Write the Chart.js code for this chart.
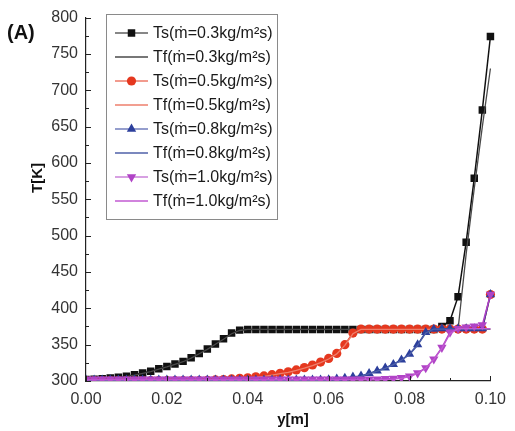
<!DOCTYPE html>
<html><head><meta charset="utf-8">
<script src="https://cdn.jsdelivr.net/npm/chart.js@4/dist/chart.umd.min.js"></script>
<style>html,body{margin:0;padding:0;background:#fff;}canvas{display:block;}</style>
</head><body>
<canvas id="c" width="515" height="431"></canvas>
<script>
// ---- data ----
const xPos = [0.000,0.002,0.004,0.006,0.008,0.010,0.012,0.014,0.016,0.018,
              0.020,0.022,0.024,0.026,0.028,0.030,0.032,0.034,0.036,0.038,
              0.040,0.042,0.044,0.046,0.048,0.050,0.052,0.054,0.056,0.058,
              0.060,0.062,0.064,0.066,0.068,0.070,0.072,0.074,0.076,0.078,
              0.080,0.082,0.084,0.086,0.088,0.090,0.092,0.094,0.096,0.098,0.100];

const ts03 = [302,302.5,303,304,305,306.5,308.5,311,313.5,317,
              320,323.5,327,332,338,344,351,358,366,370,
              371,371,371,371,371,371,371,371,371,371,
              371,371,371,371,371,371,371,371,371,371,
              371,371,371,371,375,383,416,491,579,673,774];
const tf03 = [301.5,302,302.5,303.5,304.5,306,308,310.5,313,316.5,
              319.5,323,326.5,331.5,337.5,343.5,350.5,357.5,365,369.5,
              371,371,371,371,371,371,371,371,371,371,
              371,371,371,371,371,371,371,371,371,371,
              371,371,371,371,371,371,371,475,565,650,730];
const ts05 = [300.5,300.5,300.5,300.5,300.5,300.5,300.5,300.5,300.5,300.5,
              300.5,300.5,300.5,300.5,300.5,301,301.5,302,302.8,303.7,
              304.5,305.8,307,308.7,310.5,312.7,315.2,318.4,322,326,
              331,338,350,366,371.5,371.5,371.5,371.5,371.5,371.5,
              371.5,371.5,371.5,371.5,371.5,371.5,371.5,371.5,371.5,371.5,419];
const tf05 = [300.3,300.3,300.3,300.3,300.3,300.3,300.3,300.3,300.3,300.3,
              300.3,300.3,300.3,300.3,300.3,300.7,301.2,301.7,302.5,303.3,
              304,305.3,306.5,308.2,310,312,314.5,317.7,321.3,325.3,
              330.3,337.3,349,365,371,371,371,371,371,371,
              371,371,371,371,371,371,371,371,371,371,371];
const ts08 = [301.5,301.5,301.5,301.5,301.5,301.5,301.5,301.5,301.5,301.5,
              301.5,301.5,301.5,301.5,301.5,301.5,301.5,301.5,301.5,301.5,
              301.5,301.5,301.5,301.5,301.5,301.5,301.5,301.5,301.5,301.5,
              302,303,304,305.5,307,310.5,314,318,323,329,
              337,350,367,371.5,372,372,372,372,372,372,419];
const tf08 = [301,301,301,301,301,301,301,301,301,301,
              301,301,301,301,301,301,301,301,301,301,
              301,301,301,301,301,301,301,301,301,301,
              301.6,302.5,303.5,305,306.5,310,313.5,317.5,322.5,328.5,
              336.5,349,366,371.5,371.5,371.5,371.5,371.5,371.5,371.5,371.5];
const ts10 = [302.5,302.5,302.5,302.5,302.5,302.5,302.5,302.5,302.5,302.5,
              302.5,302.5,302.5,302.5,302.5,302.5,302.5,302.5,302.5,302.5,
              302.5,302.5,302.5,302.5,302.5,302.5,302.5,302.5,302.5,302.5,
              302.5,302.5,302.5,302.5,302.5,302.5,302.6,303,303.6,304.5,
              306.5,311,318,330,346,367,372,374,375.5,377,419];
const tf10 = [301.5,301.5,301.5,301.5,301.5,301.5,301.5,301.5,301.5,301.5,
              301.5,301.5,301.5,301.5,301.5,301.5,301.5,301.5,301.5,301.5,
              301.5,301.5,301.5,301.5,301.5,301.5,301.5,301.5,301.5,301.5,
              301.5,301.5,301.5,301.5,301.5,301.5,301.6,302,302.6,303.6,
              306,310.5,317.5,329.5,345,365,372,372,372,372,372];

const seriesLabels = ['Ts(ṁ=0.3kg/m²s)','Tf(ṁ=0.3kg/m²s)',
                      'Ts(ṁ=0.5kg/m²s)','Tf(ṁ=0.5kg/m²s)',
                      'Ts(ṁ=0.8kg/m²s)','Tf(ṁ=0.8kg/m²s)',
                      'Ts(ṁ=1.0kg/m²s)','Tf(ṁ=1.0kg/m²s)'];
const yTicks = [300,350,400,450,500,550,600,650,700,750,800];
const yMinorTicks = [325,375,425,475,525,575,625,675,725,775];
const xTicks = [0.00,0.02,0.04,0.06,0.08,0.10];
const xMinorTicks = [0.01,0.03,0.05,0.07,0.09];
const xTickLabels = ['0.00','0.02','0.04','0.06','0.08','0.10'];

const FONT = '"Liberation Sans", Arial, Helvetica, sans-serif';

function pts(arr){ return arr.map((v,i)=>({x:xPos[i], y:v})); }

const clipOpt = {left:0, top:10, right:10, bottom:0};
function tsSet(label, arr, color, style, radius, rot, order){
  return {label, data:pts(arr), borderColor:color, backgroundColor:color,
    borderWidth:1.5, pointStyle:style, pointRadius:radius, pointRotation:rot,
    pointBorderWidth:0, pointBackgroundColor:color, order, clip:clipOpt, _marker:true};
}
function tfSet(label, arr, color, order){
  return {label, data:pts(arr), borderColor:color, backgroundColor:color,
    borderWidth:1.3, pointRadius:0, order, clip:clipOpt, _marker:false};
}

const datasets = [
  tsSet(seriesLabels[0], ts03, '#111111', 'rect', 5.3, 0, 8),
  tfSet(seriesLabels[1], tf03, '#4a4a4a', 7),
  tsSet(seriesLabels[2], ts05, '#e5381f', 'circle', 4.6, 0, 6),
  tfSet(seriesLabels[3], tf05, '#ee7f6c', 5),
  tsSet(seriesLabels[4], ts08, '#2c3f9c', 'triangle', 5.4, 0, 4),
  tfSet(seriesLabels[5], tf08, '#4f61a8', 3),
  tsSet(seriesLabels[6], ts10, '#b043c6', 'triangle', 5.4, 180, 2),
  tfSet(seriesLabels[7], tf10, '#c25ad2', 1)
];

function marker(ctx, style, x, y, r, rot){
  ctx.beginPath();
  if (style === 'rect'){
    const s = r*Math.SQRT1_2;
    ctx.rect(x-s, y-s, 2*s, 2*s);
  } else if (style === 'circle'){
    ctx.arc(x, y, r, 0, Math.PI*2);
  } else if (style === 'triangle'){
    const a0 = (rot||0)*Math.PI/180;
    for (let k=0;k<3;k++){
      const a = a0 + k*2*Math.PI/3;
      const px = x + Math.sin(a)*r, py = y - Math.cos(a)*r;
      if (k===0) ctx.moveTo(px,py); else ctx.lineTo(px,py);
    }
    ctx.closePath();
  }
  ctx.fill();
}

const decor = {
  id:'decor',
  afterDatasetsDraw(chart){
    const ctx = chart.ctx, xs = chart.scales.x, ys = chart.scales.y;
    const L = chart.chartArea.left, B = chart.chartArea.bottom;
    ctx.save();
    // inward ticks
    ctx.strokeStyle = '#222'; ctx.lineWidth = 1;
    ctx.beginPath();
    yTicks.forEach(v=>{const p=Math.round(ys.getPixelForValue(v))+0.5; ctx.moveTo(L,p); ctx.lineTo(L+5,p);});
    yMinorTicks.forEach(v=>{const p=Math.round(ys.getPixelForValue(v))+0.5; ctx.moveTo(L,p); ctx.lineTo(L+3,p);});
    xTicks.forEach(v=>{const p=Math.round(xs.getPixelForValue(v))+0.5; ctx.moveTo(p,B); ctx.lineTo(p,B-5);});
    xMinorTicks.forEach(v=>{const p=Math.round(xs.getPixelForValue(v))+0.5; ctx.moveTo(p,B); ctx.lineTo(p,B-3);});
    ctx.stroke();

    // titles
    ctx.fillStyle = '#111';
    ctx.font = 'bold 20px ' + FONT;
    ctx.textAlign = 'left'; ctx.textBaseline = 'alphabetic';
    ctx.fillText('(A)', 7, 39);
    ctx.font = 'bold 15px ' + FONT;
    ctx.textAlign = 'center';
    ctx.fillText('y[m]', 293, 424);
    ctx.save();
    ctx.translate(42, 178); ctx.rotate(-Math.PI/2);
    ctx.fillText('T[K]', 0, 0);
    ctx.restore();

    // legend box
    const bx = 106, by = 14, bw = 171, bh = 205;
    ctx.fillStyle = '#fff';
    ctx.fillRect(bx, by, bw, bh);
    ctx.strokeStyle = '#8a8a8a'; ctx.lineWidth = 1;
    ctx.strokeRect(bx+0.5, by+0.5, bw, bh);
    ctx.font = '16px ' + FONT;
    ctx.textAlign = 'left'; ctx.textBaseline = 'middle';
    chart.data.datasets.forEach((ds, i)=>{
      const cy = 33 + i*24;
      ctx.strokeStyle = ds.borderColor; ctx.lineWidth = ds._marker ? 1.2 : 1.4;
      ctx.beginPath(); ctx.moveTo(115, cy); ctx.lineTo(148, cy); ctx.stroke();
      if (ds._marker){
        ctx.fillStyle = ds.borderColor;
        marker(ctx, ds.pointStyle, 131.5, cy, ds.pointRadius, ds.pointRotation);
      }
      ctx.fillStyle = '#1a1a1a';
      ctx.fillText(ds.label, 153, cy+1);
    });
    ctx.restore();
  }
};

new Chart(document.getElementById('c'), {
  type:'line',
  data:{datasets},
  options:{
    responsive:false, animation:false, devicePixelRatio:1,
    layout:{padding:{top:14, right:18, left:0, bottom:0}},
    plugins:{legend:{display:false}, tooltip:{enabled:false}},
    elements:{line:{tension:0}},
    scales:{
      x:{type:'linear', min:0, max:0.1,
         afterFit(s){ s.height = 50; },
         afterBuildTicks(s){ s.ticks = xTicks.map(v=>({value:v})); },
         grid:{display:false, drawTicks:false},
         border:{display:true, color:'#222', width:1.2},
         ticks:{padding:9, color:'#333', font:{family:FONT, size:16},
                callback:(v,i)=>xTickLabels[i]}},
      y:{type:'linear', min:300, max:800,
         afterFit(s){ s.width = 86; },
         afterBuildTicks(s){ s.ticks = yTicks.map(v=>({value:v})); },
         grid:{display:false, drawTicks:false},
         border:{display:true, color:'#222', width:1.2},
         ticks:{padding:8, color:'#333', font:{family:FONT, size:16},
                callback:(v)=>String(v)}}
    }
  },
  plugins:[decor]
});
</script>
</body></html>
